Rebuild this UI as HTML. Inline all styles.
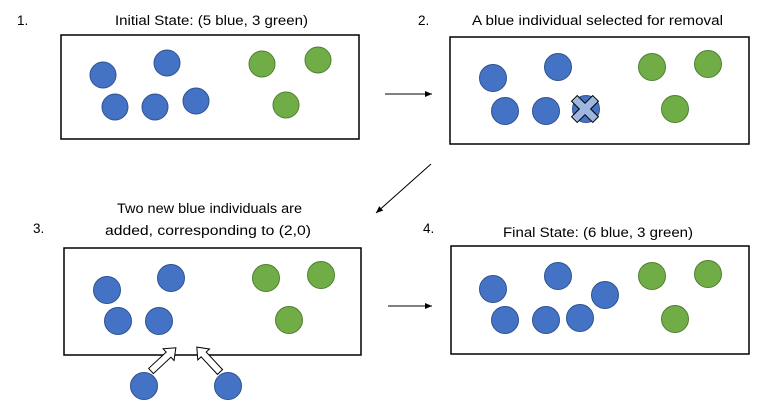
<!DOCTYPE html>
<html><head><style>
html,body{margin:0;padding:0;background:#fff;}
svg{display:block;}
text{font-family:"Liberation Sans",sans-serif;font-size:13.5px;fill:#000;}
.b{fill:#4472C4;stroke:#2F528F;stroke-width:1;}
.g{fill:#70AD47;stroke:#507E32;stroke-width:1;}
</style></head><body>
<svg width="776" height="411" viewBox="0 0 776 411" xmlns="http://www.w3.org/2000/svg">
<defs>
<marker id="ah" markerWidth="8" markerHeight="8" refX="7" refY="4" orient="auto" markerUnits="userSpaceOnUse">
<path d="M0,1 L7,4 L0,7 Z" fill="#000"/>
</marker>
</defs>
<text x="17" y="25">1.</text>
<text x="115" y="25" textLength="193" lengthAdjust="spacingAndGlyphs">Initial State: (5 blue, 3 green)</text>
<text x="418" y="25">2.</text>
<text x="472" y="25" textLength="251" lengthAdjust="spacingAndGlyphs">A blue individual selected for removal</text>
<text x="33" y="233">3.</text>
<text x="117" y="213" textLength="185" lengthAdjust="spacingAndGlyphs">Two new blue individuals are</text>
<text x="105" y="235" textLength="206" lengthAdjust="spacingAndGlyphs">added, corresponding to (2,0)</text>
<text x="423" y="233">4.</text>
<text x="503" y="237" textLength="190" lengthAdjust="spacingAndGlyphs">Final State: (6 blue, 3 green)</text>

<rect x="61" y="35" width="298" height="104" fill="none" stroke="#000" stroke-width="1.5"/>
<circle class="b" cx="103" cy="75" r="13"/>
<circle class="b" cx="167" cy="63" r="13"/>
<circle class="b" cx="115" cy="107" r="13"/>
<circle class="b" cx="155" cy="107" r="13"/>
<circle class="b" cx="196" cy="101" r="13"/>
<circle class="g" cx="262" cy="64" r="13"/>
<circle class="g" cx="318" cy="60" r="13"/>
<circle class="g" cx="286" cy="105" r="13"/>

<rect x="450" y="37" width="299" height="107" fill="none" stroke="#000" stroke-width="1.5"/>
<circle class="b" cx="493" cy="78" r="13.5"/>
<circle class="b" cx="558" cy="67" r="13.5"/>
<circle class="b" cx="505" cy="111" r="13.5"/>
<circle class="b" cx="546" cy="111" r="13.5"/>
<circle class="b" cx="586" cy="109" r="13.5"/>
<g transform="translate(585,109) rotate(45)">
<path d="M-4,-15 H4 V-4 H15 V4 H4 V15 H-4 V4 H-15 V-4 H-4 Z" fill="#A9BFE3" fill-opacity="0.9" stroke="#000" stroke-width="1"/>
</g>
<circle class="g" cx="652" cy="67" r="13.5"/>
<circle class="g" cx="708" cy="64" r="13.5"/>
<circle class="g" cx="675" cy="109" r="13.5"/>

<rect x="64" y="248" width="297" height="107" fill="none" stroke="#000" stroke-width="1.5"/>
<circle class="b" cx="107" cy="290" r="13.5"/>
<circle class="b" cx="171" cy="278" r="13.5"/>
<circle class="b" cx="118" cy="321" r="13.5"/>
<circle class="b" cx="159" cy="321" r="13.5"/>
<circle class="g" cx="266" cy="278" r="13.5"/>
<circle class="g" cx="321" cy="275" r="13.5"/>
<circle class="g" cx="289" cy="320" r="13.5"/>
<circle class="b" cx="144" cy="386" r="13.5"/>
<circle class="b" cx="228" cy="386" r="13.5"/>
<g transform="translate(151,371) rotate(-43)">
<path d="M0,-3.5 H24 V-8 L34,0 L24,8 V3.5 H0 Z" fill="#fff" stroke="#000" stroke-width="1"/>
</g>
<g transform="translate(220,372) rotate(-133)">
<path d="M0,-3.5 H24 V-8 L34,0 L24,8 V3.5 H0 Z" fill="#fff" stroke="#000" stroke-width="1"/>
</g>

<rect x="451" y="246" width="298" height="108" fill="none" stroke="#000" stroke-width="1.5"/>
<circle class="b" cx="493" cy="289" r="13.5"/>
<circle class="b" cx="558" cy="276" r="13.5"/>
<circle class="b" cx="505" cy="320" r="13.5"/>
<circle class="b" cx="546" cy="320" r="13.5"/>
<circle class="b" cx="580" cy="318" r="13.5"/>
<circle class="b" cx="605" cy="295" r="13.5"/>
<circle class="g" cx="652" cy="276" r="13.5"/>
<circle class="g" cx="708" cy="274" r="13.5"/>
<circle class="g" cx="675" cy="319" r="13.5"/>

<line x1="385" y1="94" x2="432" y2="94" stroke="#000" stroke-width="1" marker-end="url(#ah)"/>
<line x1="431" y1="164" x2="376" y2="213" stroke="#000" stroke-width="1" marker-end="url(#ah)"/>
<line x1="388" y1="306" x2="432" y2="306" stroke="#000" stroke-width="1" marker-end="url(#ah)"/>
</svg>
</body></html>
